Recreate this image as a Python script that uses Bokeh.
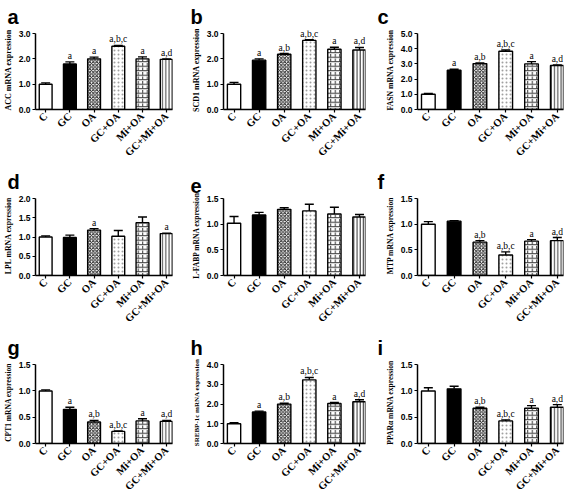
import math
from bokeh.plotting import figure
from bokeh.layouts import gridplot
from bokeh.models import (ColumnDataSource, Whisker, TeeHead, FixedTicker, Range1d,
                          NumeralTickFormatter)
from bokeh.embed import file_html
from bokeh.resources import INLINE
from bokeh.core.properties import value

groups = ["C", "GC", "OA", "GC+OA", "Mi+OA", "GC+Mi+OA"]

letters = ["a", "b", "c", "d", "e", "f", "g", "h", "i"]
ylabels = ["ACC mRNA expression", "SCD1 mRNA expression", "FASN mRNA expression",
           "LPL mRNA expression", "L-FABP mRNA expression", "MTP mRNA expression",
           "CPT1 mRNA expression", "SREBP-1c mRNA expression", "PPARα mRNA expression"]
yticks = [[0, 1, 2, 3], [0, 1, 2, 3], [0, 1, 2, 3, 4, 5],
          [0, 0.5, 1.0, 1.5, 2.0], [0, 0.5, 1.0, 1.5], [0, 0.5, 1.0, 1.5],
          [0, 0.5, 1.0, 1.5], [0, 1, 2, 3, 4], [0, 0.5, 1.0, 1.5]]

acc_mean = [1.00, 1.80, 2.00, 2.50, 2.00, 1.98]
acc_sem = [0.05, 0.08, 0.07, 0.03, 0.08, 0.02]
scd1_mean = [1.00, 1.95, 2.18, 2.73, 2.38, 2.35]
scd1_sem = [0.07, 0.05, 0.03, 0.03, 0.08, 0.10]
fasn_mean = [1.00, 2.58, 3.02, 3.83, 3.00, 2.90]
fasn_sem = [0.05, 0.07, 0.04, 0.09, 0.15, 0.04]
lpl_mean = [1.00, 0.99, 1.18, 1.02, 1.37, 1.09]
lpl_sem = [0.03, 0.06, 0.04, 0.15, 0.15, 0.01]
lfabp_mean = [1.02, 1.18, 1.29, 1.26, 1.20, 1.14]
lfabp_sem = [0.13, 0.05, 0.03, 0.13, 0.13, 0.05]
mtp_mean = [1.00, 1.06, 0.65, 0.40, 0.67, 0.68]
mtp_sem = [0.05, 0.01, 0.03, 0.06, 0.03, 0.06]
cpt1_mean = [1.00, 0.65, 0.41, 0.23, 0.43, 0.42]
cpt1_sem = [0.02, 0.04, 0.03, 0.01, 0.04, 0.02]
srebp_mean = [1.00, 1.60, 2.00, 3.23, 2.03, 2.12]
srebp_sem = [0.05, 0.04, 0.04, 0.12, 0.05, 0.10]
ppara_mean = [1.00, 1.04, 0.67, 0.43, 0.67, 0.69]
ppara_sem = [0.06, 0.05, 0.02, 0.02, 0.05, 0.05]

ann_std = ["", "a", "a,b", "a,b,c", "a", "a,d"]
acc_ann = ["", "a", "a", "a,b,c", "a", "a,d"]
lpl_ann = ["", "", "a", "", "", "a"]
lfabp_ann = ["", "", "", "", "", ""]
dec_ann = ["", "", "a,b", "a,b,c", "a", "a,d"]

means = [acc_mean, scd1_mean, fasn_mean, lpl_mean, lfabp_mean, mtp_mean,
         cpt1_mean, srebp_mean, ppara_mean]
sems = [acc_sem, scd1_sem, fasn_sem, lpl_sem, lfabp_sem, mtp_sem,
        cpt1_sem, srebp_sem, ppara_sem]
anns = [acc_ann, ann_std, ann_std, lpl_ann, lfabp_ann, dec_ann,
        ann_std, ann_std, dec_ann]

# styles
fills = ["white", "black", "white", "white", "white", "white"]
hatches = ["blank", "blank", "diagonal_cross", "dot", "horizontal_line", "vertical_line"]
hatches2 = ["blank", "blank", "blank", "blank", "vertical_dash", "blank"]
hatch_colors = ["black", "black", "#222222", "#a0a0a0", "#333333", "#333333"]
hatch_scales = [4, 4, 3.5, 4, 4.5, 3.2]
label_sizes = ["8px", "8px", "7.7px", "7.8px", "7.5px", "7.6px", "7.5px", "7px", "7.6px"]

col_w = [188, 188, 191]
col_bl = [31, 35, 41]
col_br = [16, 11, 4]
col_letter = [-28, -33, -40]
row_h = [165, 166, 168]
row_bt = [26, 27, 28]
row_bb = [48, 48, 46]


def make_panel(k):
    c, r = k % 3, k // 3
    ymax = yticks[k][-1]
    xs = list(range(len(groups)))
    src = ColumnDataSource(dict(
        x=xs, top=means[k], hi=[m + s for m, s in zip(means[k], sems[k])],
        ann=anns[k], fill=fills, hatch=hatches, hatch2=hatches2,
        hc=hatch_colors, hs=hatch_scales))
    p = figure(width=col_w[c], height=row_h[r], x_range=Range1d(-0.42, 5.24),
               y_range=Range1d(0, ymax * 1.04), output_backend="svg",
               toolbar_location=None,
               min_border_left=col_bl[c], min_border_right=col_br[c],
               min_border_top=row_bt[r], min_border_bottom=row_bb[r])
    p.background_fill_color = "white"
    p.border_fill_color = "white"
    p.outline_line_color = None
    p.xgrid.visible = False
    p.ygrid.visible = False

    p.title.text = letters[k]
    p.title.align = "left"
    p.title.offset = col_letter[c]
    p.title.standoff = 6
    p.title.text_font = "Liberation Sans"
    p.title.text_font_style = "bold"
    p.title.text_font_size = "20px"
    p.title.text_color = "black"

    p.vbar(x="x", top="top", width=0.53, source=src, fill_color="fill",
           line_color="black", line_width=1.4, hatch_pattern="hatch",
           hatch_color="hc", hatch_scale="hs", hatch_weight=1.0)
    p.vbar(x="x", top="top", width=0.53, source=src, fill_alpha=0,
           line_alpha=0, hatch_pattern="hatch2",
           hatch_color="hc", hatch_scale="hs", hatch_weight=1.0)
    p.add_layout(Whisker(source=src, base="x", upper="hi", lower="top",
                         dimension="height", line_color="black", line_width=1.4,
                         upper_head=TeeHead(size=9, line_color="black", line_width=1.4),
                         lower_head=None, level="overlay"))
    p.text(x="x", y="hi", text="ann", source=src, text_align="center",
           text_baseline="bottom", y_offset=-1,
           text_font=value("Liberation Serif"), text_font_size="9.5px",
           text_color="black")

    xa = p.xaxis[0]
    xa.ticker = FixedTicker(ticks=xs)
    xa.major_label_overrides = {i: g for i, g in enumerate(groups)}
    xa.major_label_orientation = math.pi / 4
    xa.major_label_text_font = "Liberation Serif"
    xa.major_label_text_font_style = "bold"
    xa.major_label_text_font_size = "10.5px"
    xa.major_label_text_color = "black"
    xa.major_label_standoff = 2
    xa.axis_line_width = 1.5
    xa.axis_line_color = "black"
    xa.major_tick_line_width = 1.2
    xa.major_tick_line_color = "black"
    xa.major_tick_out = 3
    xa.major_tick_in = 0
    xa.minor_tick_line_color = None

    ya = p.yaxis[0]
    ya.ticker = FixedTicker(ticks=yticks[k])
    ya.formatter = NumeralTickFormatter(format="0.0")
    ya.bounds = (0, ymax)
    ya.major_label_text_font = "Liberation Sans"
    ya.major_label_text_font_style = "bold"
    ya.major_label_text_font_size = "8.5px"
    ya.major_label_text_color = "black"
    ya.major_label_standoff = 2
    ya.axis_line_width = 1.5
    ya.axis_line_color = "black"
    ya.major_tick_line_width = 1.2
    ya.major_tick_line_color = "black"
    ya.major_tick_out = 3
    ya.major_tick_in = 0
    ya.minor_tick_line_color = None
    ya.axis_label = ylabels[k]
    ya.axis_label_text_font = "Liberation Serif"
    ya.axis_label_text_font_style = "bold"
    ya.axis_label_text_font_size = label_sizes[k]
    ya.axis_label_text_color = "black"
    ya.axis_label_standoff = 3
    return p


panels = [make_panel(k) for k in range(9)]
grid = gridplot([panels[0:3], panels[3:6], panels[6:9]], toolbar_location=None)

open("out.html", "w").write(file_html(grid, INLINE))
